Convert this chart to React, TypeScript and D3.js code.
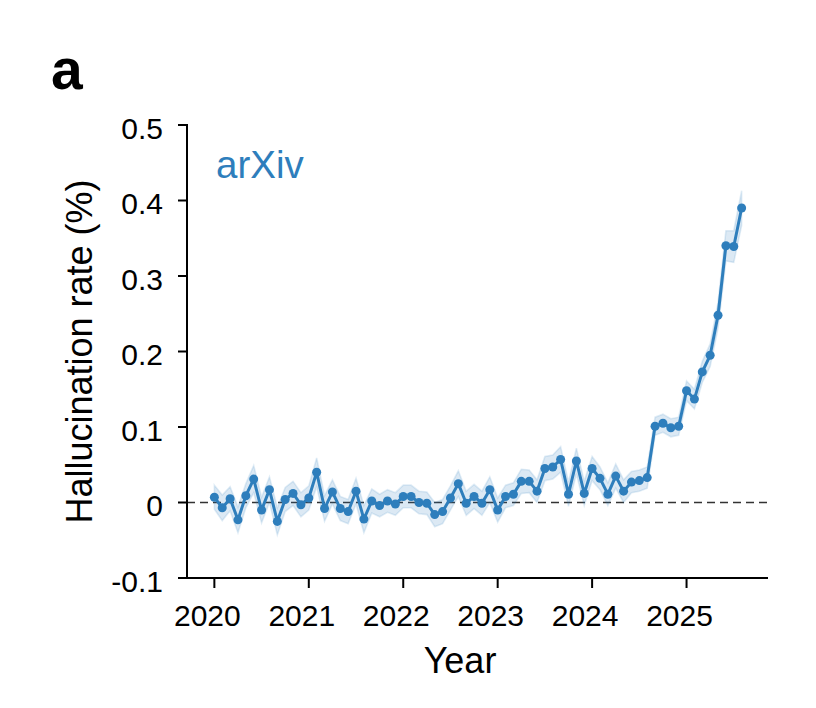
import React, { useEffect } from "react";
import * as d3 from "d3";

// Monthly observations, Jan 2020 .. Aug 2025
const START_YEAR = 2020;
const rate: number[] = [
  0.007, -0.007, 0.005, -0.023, 0.009, 0.031, -0.010, 0.017, -0.025, 0.004, 0.012, -0.003,
  0.006, 0.040, -0.008, 0.014, -0.008, -0.012, 0.015, -0.022, 0.002, -0.004, 0.002, -0.002,
  0.008, 0.008, 0.000, -0.001, -0.016, -0.012, 0.006, 0.025, -0.001, 0.008, -0.001, 0.017,
  -0.010, 0.008, 0.011, 0.028, 0.028, 0.015, 0.045, 0.047, 0.057, 0.011, 0.055, 0.012,
  0.045, 0.032, 0.011, 0.035, 0.015, 0.027, 0.029, 0.033, 0.101, 0.105, 0.099, 0.101,
  0.148, 0.137, 0.173, 0.195, 0.248, 0.340, 0.339, 0.390,
];
const ciHalf: number[] = [
  0.016, 0.017, 0.016, 0.017, 0.016, 0.018, 0.017, 0.017, 0.018, 0.016, 0.016, 0.016,
  0.016, 0.019, 0.017, 0.016, 0.016, 0.016, 0.017, 0.018, 0.016, 0.015, 0.015, 0.015,
  0.015, 0.015, 0.015, 0.015, 0.016, 0.016, 0.016, 0.017, 0.016, 0.016, 0.016, 0.017,
  0.016, 0.015, 0.015, 0.016, 0.015, 0.015, 0.016, 0.016, 0.017, 0.016, 0.017, 0.016,
  0.016, 0.015, 0.015, 0.016, 0.015, 0.014, 0.014, 0.014, 0.012, 0.012, 0.012, 0.012,
  0.013, 0.013, 0.014, 0.015, 0.017, 0.020, 0.021, 0.023,
];
const yTicks: number[] = [-0.1, 0, 0.1, 0.2, 0.3, 0.4, 0.5];
const yTickLabels: string[] = ["-0.1", "0", "0.1", "0.2", "0.3", "0.4", "0.5"];
const xTicks: number[] = [2020, 2021, 2022, 2023, 2024, 2025];
const xTickLabels: string[] = ["2020", "2021", "2022", "2023", "2024", "2025"];

const BLUE = "#2e7ebc";
const FONT = "'Liberation Sans', Arial, Helvetica, sans-serif";

export default function App() {
  useEffect(() => {
    document.body.style.margin = "0";
  }, []);

  const W = 816;
  const H = 708;
  const left = 187;
  const right = 768;
  const top = 125;
  const bottom = 578;

  const n = rate.length;
  const times = rate.map((_, i) => START_YEAR + i / 12);
  const pad = (n - 1) * 0.05;
  const x = d3
    .scaleLinear()
    .domain([START_YEAR - pad / 12, START_YEAR + (n - 1 + pad) / 12])
    .range([left + 1, right]);
  const y = d3.scaleLinear().domain([-0.1, 0.5]).range([bottom, top]);

  const pts = rate.map((v, i) => ({ t: times[i], v, lo: v - ciHalf[i], hi: v + ciHalf[i] }));

  const area = d3
    .area<any>()
    .x((d) => x(d.t))
    .y0((d) => y(d.lo))
    .y1((d) => y(d.hi));
  const line = d3
    .line<any>()
    .x((d) => x(d.t))
    .y((d) => y(d.v));

  return (
    <svg width={W} height={H} style={{ display: "block" }} fontFamily={FONT}>
      <rect x={0} y={0} width={W} height={H} fill="#fff" />
      {/* panel label */}
      <text x={51} y={89} fontSize={57} fontWeight="bold" fill="#000">
        a
      </text>

      {/* zero line */}
      <line
        x1={left}
        x2={right}
        y1={y(0)}
        y2={y(0)}
        stroke="#333"
        strokeWidth={1.7}
        strokeDasharray="8,5"
      />

      {/* CI band */}
      <path
        d={area(pts) || ""}
        fill={BLUE}
        fillOpacity={0.17}
        stroke={BLUE}
        strokeOpacity={0.14}
        strokeWidth={1.6}
      />
      {/* series line */}
      <path d={line(pts) || ""} fill="none" stroke={BLUE} strokeWidth={3} strokeLinejoin="round" />
      {pts.map((d, i) => (
        <circle key={i} cx={x(d.t)} cy={y(d.v)} r={4.5} fill={BLUE} />
      ))}

      {/* axes spines */}
      <line x1={left} x2={left} y1={top - 1} y2={bottom + 1} stroke="#000" strokeWidth={2} />
      <line x1={left - 1} x2={right} y1={bottom} y2={bottom} stroke="#000" strokeWidth={2} />

      {/* y ticks */}
      {yTicks.map((t, i) => (
        <g key={"y" + i}>
          <line x1={left - 9} x2={left} y1={y(t)} y2={y(t)} stroke="#000" strokeWidth={2} />
          <text
            x={left - 24}
            y={y(t)}
            dy="0.45em"
            textAnchor="end"
            fontSize={30}
            fill="#000"
          >
            {yTickLabels[i]}
          </text>
        </g>
      ))}

      {/* x ticks */}
      {xTicks.map((t, i) => (
        <g key={"x" + i}>
          <line x1={x(t)} x2={x(t)} y1={bottom} y2={bottom + 10} stroke="#000" strokeWidth={2} />
          <text x={x(t) - 7} y={bottom + 48} textAnchor="middle" fontSize={30} fill="#000">
            {xTickLabels[i]}
          </text>
        </g>
      ))}

      {/* axis labels */}
      <text x={460} y={673} textAnchor="middle" fontSize={36} fill="#000">
        Year
      </text>
      <text
        transform={`translate(92, ${(top + bottom) / 2}) rotate(-90)`}
        textAnchor="middle"
        fontSize={36}
        fill="#000"
      >
        Hallucination rate (%)
      </text>

      {/* series label */}
      <text x={216} y={178} fontSize={38.5} fill={BLUE}>
        arXiv
      </text>
    </svg>
  );
}
